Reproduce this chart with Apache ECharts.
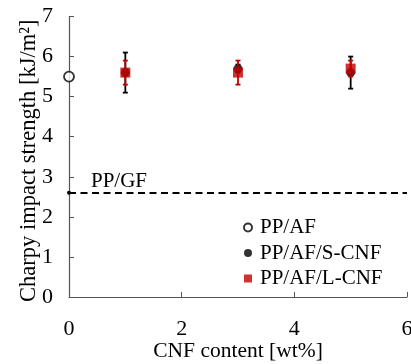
<!DOCTYPE html>
<html><head><meta charset="utf-8">
<script src="https://cdn.jsdelivr.net/npm/echarts@6/dist/echarts.min.js"></script>
<style>html,body{margin:0;padding:0;background:#fff}#c{width:411px;height:364px}</style>
</head><body><div id="c"></div>
<script>
const afX = [0];
const afY = [5.5];
const sX = [1, 3, 5];
const sY = [5.6, 5.7, 5.6];
const sErr = [0.5, 0.1, 0.4];
const lX = [1, 3, 5];
const lY = [5.6, 5.6, 5.7];
const lErr = [0.3, 0.3, 0.2];
const gfValue = 2.6;
const xTicks = [0, 2, 4, 6];

const FONT = '"Liberation Serif", "Times New Roman", serif';
const RED = '#c00000';

function errSeries(xs, ys, es, color, z) {
  return {
    type: 'custom', z: z, silent: true,
    data: xs.map((x, i) => [x, ys[i] - es[i], ys[i] + es[i]]),
    renderItem: function (params, api) {
      const lo = api.coord([api.value(0), api.value(1)]);
      const hi = api.coord([api.value(0), api.value(2)]);
      const w = 2.5;
      const st = { stroke: color, lineWidth: 1.8 };
      return { type: 'group', children: [
        { type: 'line', shape: { x1: lo[0], y1: lo[1], x2: hi[0], y2: hi[1] }, style: st },
        { type: 'line', shape: { x1: lo[0] - w, y1: lo[1], x2: lo[0] + w, y2: lo[1] }, style: st },
        { type: 'line', shape: { x1: hi[0] - w, y1: hi[1], x2: hi[0] + w, y2: hi[1] }, style: st }
      ]};
    }
  };
}

const chart = echarts.init(document.getElementById('c'), null, { renderer: 'canvas' });
chart.setOption({
  animation: false,
  backgroundColor: '#fff',
  grid: { left: 69, right: 4, top: 16.5, bottom: 67, containLabel: false, outerBoundsMode: 'none' },
  xAxis: {
    type: 'value', min: 0, max: 6, interval: 2,
    name: 'CNF content [wt%]', nameLocation: 'middle', nameGap: 43, nameMoveOverlap: false,
    nameTextStyle: { fontFamily: FONT, fontSize: 21.5, color: '#000', verticalAlign: 'top' },
    axisLine: { lineStyle: { color: '#555', width: 1.2 } },
    axisTick: { inside: true, length: 5, lineStyle: { color: '#555' } },
    axisLabel: { fontFamily: FONT, fontSize: 22, color: '#000', margin: 21,
      formatter: v => xTicks.includes(v) ? String(v) : '' },
    splitLine: { show: false }
  },
  yAxis: {
    type: 'value', min: 0, max: 7, interval: 1,
    name: 'Charpy impact strength [kJ/m²]', nameLocation: 'middle', nameGap: 28, nameMoveOverlap: false,
    nameTextStyle: { fontFamily: FONT, fontSize: 22.5, color: '#000', padding: [0, 8, 0, 0] },
    axisLine: { lineStyle: { color: '#555', width: 1.2 } },
    axisTick: { inside: true, length: 5, lineStyle: { color: '#555' } },
    axisLabel: { fontFamily: FONT, fontSize: 22, color: '#000', margin: 16 },
    splitLine: { show: false }
  },
  legend: {
    orient: 'vertical', left: 243, top: 217, itemGap: 4.5, padding: 0,
    itemWidth: 8, itemHeight: 8,
    textStyle: { fontFamily: FONT, fontSize: 21, color: '#000', padding: [0, 0, 0, 3] },
    data: [
      { name: 'PP/AF', icon: 'circle' },
      { name: 'PP/AF/S-CNF', icon: 'circle' },
      { name: 'PP/AF/L-CNF', icon: 'rect' }
    ]
  },
  series: [
    {
      name: 'PP/GF', type: 'line', z: 1, silent: true,
      data: [], markLine: {
        silent: true, symbol: ['circle', 'none'], symbolSize: 4,
        lineStyle: { type: [7, 4.5], color: '#000', width: 1.8 },
        label: { show: true, position: 'insideStartTop', formatter: 'PP/GF', distance: [22, 1],
          fontFamily: FONT, fontSize: 21, color: '#000' },
        data: [{ yAxis: gfValue }]
      }
    },
    errSeries(sX, sY, sErr, '#000', 2),
    {
      name: 'PP/AF/S-CNF', type: 'scatter', z: 3, symbol: 'circle', symbolSize: 9,
      itemStyle: { color: '#000' },
      data: sX.map((x, i) => [x, sY[i]])
    },
    errSeries(lX, lY, lErr, RED, 4),
    {
      name: 'PP/AF/L-CNF', type: 'scatter', z: 5, symbol: 'rect', symbolSize: 10,
      itemStyle: { color: RED },
      data: lX.map((x, i) => [x, lY[i]])
    },
    {
      name: 'PP/AF', type: 'scatter', z: 6, symbol: 'circle', symbolSize: 10,
      itemStyle: { color: '#fff', borderColor: '#000', borderWidth: 1.8 },
      data: afX.map((x, i) => [x, afY[i]])
    }
  ]
});
</script></body></html>
